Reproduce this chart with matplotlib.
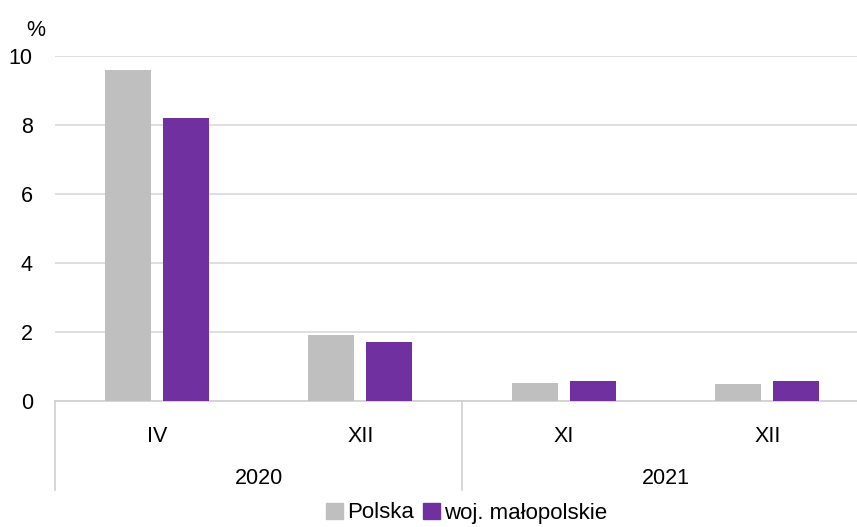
import matplotlib
matplotlib.use("Agg")
import matplotlib.pyplot as plt
import matplotlib.transforms as mtransforms
from matplotlib.patches import Patch
import numpy as np

plt.rcParams['font.family'] = ['Liberation Sans', 'DejaVu Sans']

months = ["IV", "XII", "XI", "XII"]
years = ["2020", "2021"]
series_names = ["Polska", "woj. małopolskie"]
polska = [9.6, 1.9, 0.52, 0.48]
malopolskie = [8.2, 1.7, 0.57, 0.58]
colors = ["#bfbfbf", "#7030a0"]
yticks = [0, 2, 4, 6, 8, 10]

W, H = 857, 527
FS = 15.5
fig = plt.figure(figsize=(W / 100, H / 100), dpi=100)
ax = fig.add_axes([55 / W, 1 - 401 / H, 814 / W, (401 - 56) / H])

x = np.arange(len(months))
bw = 0.226
off = 0.143
ax.bar(x - off, polska, bw, color=colors[0], zorder=3)
ax.bar(x + off, malopolskie, bw, color=colors[1], zorder=3)

ax.set_xlim(-0.5, len(months) - 0.5)
ax.set_ylim(0, 10)
ax.set_yticks(yticks)
ax.set_yticklabels([str(v) for v in yticks], fontsize=FS, color="#000000")
ax.tick_params(axis='y', length=0, pad=16)
ax.yaxis.grid(True, color="#d9d9d9", linewidth=1.2, zorder=0)
for s in ["top", "right", "left"]:
    ax.spines[s].set_visible(False)
ax.spines["bottom"].set_color("#d0d0d0")
ax.spines["bottom"].set_linewidth(1.2)
ax.set_xticks([])

trans = mtransforms.blended_transform_factory(ax.transData, ax.transAxes)
px = 1 / (401 - 56)
for i, m in enumerate(months):
    ax.text(i, -35 * px, m, transform=trans, ha="center", va="center", fontsize=FS)
for j, yv in enumerate(years):
    ax.text(2 * j + 0.5, -77 * px, yv, transform=trans, ha="center", va="center", fontsize=FS)
for xs in [-0.5, 1.5]:
    ax.plot([xs, xs], [0, -89 * px], transform=trans, color="#d0d0d0",
            linewidth=1.2, clip_on=False)

fig.text(36 / W, 1 - 30 / H, "%", ha="center", va="center", fontsize=FS)

handles = [Patch(color=c) for c in colors]
fig.legend(handles, series_names, loc="center", bbox_to_anchor=(467 / W, 1 - 513 / H),
           ncol=2, frameon=False, fontsize=FS + 0.5, handlelength=0.75, handleheight=0.75,
           handletextpad=0.2, columnspacing=0.4, borderpad=0)

fig.savefig("out.png", dpi=100)
